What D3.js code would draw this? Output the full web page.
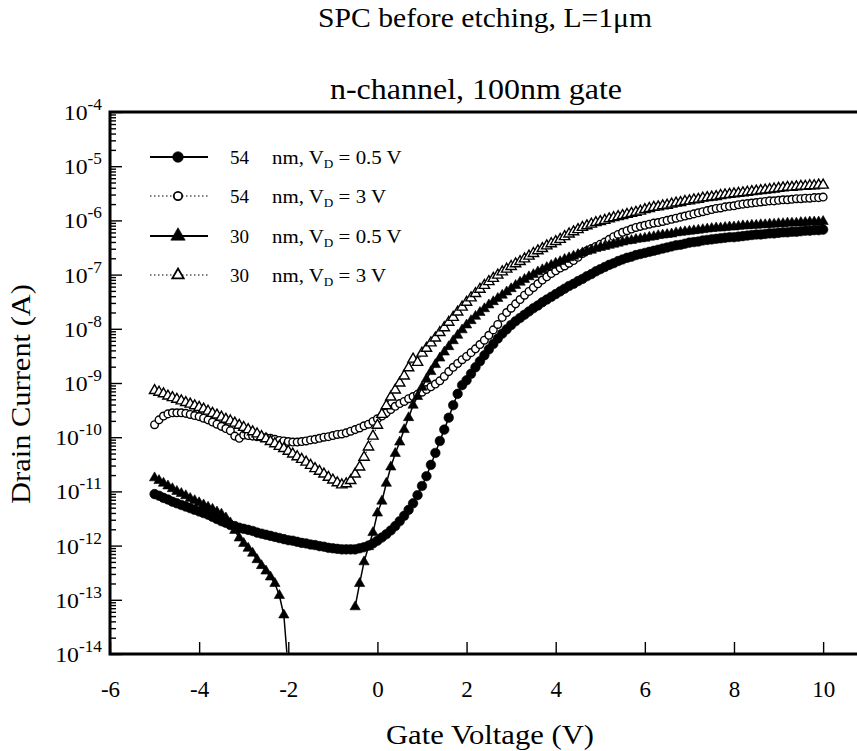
<!DOCTYPE html>
<html>
<head>
<meta charset="utf-8">
<script src="https://cdn.jsdelivr.net/npm/d3@7"></script>
<style>
  body { margin: 0; background: #fff; }
  svg { display: block; }
  text { white-space: pre; }
</style>
</head>
<body>
<script>
// gate voltage sweep (V)
const gateVoltage = [
  -5.0, -4.9, -4.8, -4.7, -4.6, -4.5, -4.4, -4.3, -4.2, -4.1,
  -4.0, -3.9, -3.8, -3.7, -3.6, -3.5, -3.4, -3.3, -3.2, -3.1,
  -3.0, -2.9, -2.8, -2.7, -2.6, -2.5, -2.4, -2.3, -2.2, -2.1,
  -2.0, -1.9, -1.8, -1.7, -1.6, -1.5, -1.4, -1.3, -1.2, -1.1,
  -1.0, -0.9, -0.8, -0.7, -0.6, -0.5, -0.4, -0.3, -0.2, -0.1,
  0.0, 0.1, 0.2, 0.3, 0.4, 0.5, 0.6, 0.7, 0.8, 0.9,
  1.0, 1.1, 1.2, 1.3, 1.4, 1.5, 1.6, 1.7, 1.8, 1.9,
  2.0, 2.1, 2.2, 2.3, 2.4, 2.5, 2.6, 2.7, 2.8, 2.9,
  3.0, 3.1, 3.2, 3.3, 3.4, 3.5, 3.6, 3.7, 3.8, 3.9,
  4.0, 4.1, 4.2, 4.3, 4.4, 4.5, 4.6, 4.7, 4.8, 4.9,
  5.0, 5.1, 5.2, 5.3, 5.4, 5.5, 5.6, 5.7, 5.8, 5.9,
  6.0, 6.1, 6.2, 6.3, 6.4, 6.5, 6.6, 6.7, 6.8, 6.9,
  7.0, 7.1, 7.2, 7.3, 7.4, 7.5, 7.6, 7.7, 7.8, 7.9,
  8.0, 8.1, 8.2, 8.3, 8.4, 8.5, 8.6, 8.7, 8.8, 8.9,
  9.0, 9.1, 9.2, 9.3, 9.4, 9.5, 9.6, 9.7, 9.8, 9.9,
  10.0
];

// log10 of drain current (A), one value per gate voltage; null = no reading (negative current)
const logId54nm05V = [
  -11.05, -11.08, -11.12, -11.15, -11.19, -11.22, -11.25, -11.28, -11.31, -11.34,
  -11.37, -11.40, -11.43, -11.47, -11.51, -11.55, -11.58, -11.62, -11.64, -11.67,
  -11.69, -11.71, -11.73, -11.76, -11.78, -11.80, -11.82, -11.84, -11.86, -11.88,
  -11.90, -11.91, -11.93, -11.95, -11.96, -11.98, -11.99, -12.01, -12.02, -12.04,
  -12.05, -12.06, -12.07, -12.07, -12.07, -12.07, -12.05, -12.03, -12.00, -11.96,
  -11.91, -11.85, -11.79, -11.72, -11.64, -11.55, -11.45, -11.34, -11.22, -11.07,
  -10.90, -10.72, -10.51, -10.29, -10.07, -9.86, -9.64, -9.41, -9.20, -9.04,
  -8.95, -8.83, -8.71, -8.60, -8.49, -8.38, -8.28, -8.18, -8.09, -8.01,
  -7.93, -7.86, -7.80, -7.74, -7.68, -7.62, -7.57, -7.51, -7.46, -7.41,
  -7.36, -7.31, -7.26, -7.21, -7.17, -7.12, -7.08, -7.03, -6.99, -6.94,
  -6.90, -6.86, -6.82, -6.79, -6.75, -6.72, -6.69, -6.67, -6.64, -6.62,
  -6.60, -6.58, -6.56, -6.54, -6.52, -6.50, -6.48, -6.46, -6.45, -6.43,
  -6.41, -6.40, -6.39, -6.37, -6.36, -6.35, -6.34, -6.33, -6.32, -6.31,
  -6.31, -6.30, -6.29, -6.28, -6.27, -6.26, -6.26, -6.25, -6.24, -6.24,
  -6.23, -6.22, -6.22, -6.21, -6.21, -6.20, -6.19, -6.19, -6.18, -6.18,
  -6.17
];

const logId54nm3V = [
  -9.77, -9.68, -9.61, -9.57, -9.55, -9.55, -9.55, -9.56, -9.58, -9.60,
  -9.62, -9.65, -9.68, -9.72, -9.76, -9.80, -9.84, -9.88, -9.98, -10.02,
  -9.96, -9.97, -9.98, -9.99, -10.00, -10.01, -10.02, -10.04, -10.06, -10.07,
  -10.08, -10.09, -10.09, -10.08, -10.07, -10.05, -10.04, -10.02, -10.00, -9.99,
  -9.97, -9.95, -9.94, -9.92, -9.89, -9.86, -9.83, -9.79, -9.76, -9.71,
  -9.66, -9.61, -9.55, -9.49, -9.43, -9.38, -9.34, -9.29, -9.25, -9.21,
  -9.17, -9.12, -9.07, -9.02, -8.96, -8.88, -8.79, -8.71, -8.64, -8.57,
  -8.51, -8.44, -8.37, -8.29, -8.21, -8.12, -8.02, -7.92, -7.79, -7.70,
  -7.62, -7.54, -7.46, -7.38, -7.31, -7.24, -7.17, -7.10, -7.04, -6.98,
  -6.93, -6.88, -6.84, -6.79, -6.74, -6.68, -6.61, -6.56, -6.52, -6.48,
  -6.44, -6.40, -6.35, -6.30, -6.26, -6.22, -6.19, -6.16, -6.13, -6.11,
  -6.09, -6.07, -6.05, -6.04, -6.02, -6.00, -5.98, -5.96, -5.94, -5.92,
  -5.90, -5.88, -5.86, -5.84, -5.82, -5.80, -5.78, -5.77, -5.75, -5.74,
  -5.73, -5.71, -5.70, -5.69, -5.68, -5.67, -5.66, -5.65, -5.64, -5.64,
  -5.63, -5.62, -5.62, -5.61, -5.60, -5.60, -5.59, -5.59, -5.58, -5.58,
  -5.57
];

const logId30nm05V = [
  -10.75, -10.80, -10.85, -10.90, -10.95, -11.00, -11.04, -11.08, -11.13, -11.17,
  -11.21, -11.25, -11.29, -11.33, -11.38, -11.42, -11.49, -11.58, -11.72, -11.86,
  -11.96, -12.05, -12.14, -12.26, -12.37, -12.47, -12.58, -12.70, -12.92, -13.28,
  -14.30, null, null, null, null, null, null, null, null, null,
  null, null, null, null, null, -13.13, -12.70, -12.30, -12.02, -11.76,
  -11.40, -11.18, -10.85, -10.55, -10.30, -10.09, -9.86, -9.64, -9.41, -9.25,
  -9.08, -8.93, -8.79, -8.66, -8.54, -8.43, -8.33, -8.22, -8.12, -8.02,
  -7.93, -7.85, -7.77, -7.70, -7.63, -7.56, -7.50, -7.44, -7.38, -7.32,
  -7.26, -7.20, -7.14, -7.09, -7.04, -7.00, -6.95, -6.91, -6.87, -6.83,
  -6.79, -6.76, -6.72, -6.69, -6.66, -6.63, -6.60, -6.57, -6.55, -6.52,
  -6.50, -6.48, -6.46, -6.44, -6.42, -6.40, -6.38, -6.37, -6.35, -6.34,
  -6.33, -6.31, -6.30, -6.28, -6.27, -6.26, -6.25, -6.23, -6.22, -6.21,
  -6.20, -6.19, -6.18, -6.17, -6.16, -6.15, -6.14, -6.14, -6.13, -6.12,
  -6.12, -6.11, -6.10, -6.10, -6.09, -6.09, -6.08, -6.08, -6.07, -6.07,
  -6.06, -6.06, -6.05, -6.05, -6.05, -6.04, -6.04, -6.03, -6.03, -6.03,
  -6.02
];

const logId30nm3V = [
  -9.14, -9.17, -9.20, -9.24, -9.27, -9.30, -9.33, -9.36, -9.39, -9.42,
  -9.45, -9.48, -9.52, -9.56, -9.59, -9.63, -9.67, -9.70, -9.74, -9.78,
  -9.82, -9.86, -9.90, -9.94, -9.99, -10.03, -10.08, -10.12, -10.17, -10.21,
  -10.26, -10.31, -10.36, -10.41, -10.46, -10.52, -10.58, -10.63, -10.68, -10.74,
  -10.79, -10.84, -10.88, -10.86, -10.80, -10.68, -10.55, -10.37, -10.18, -9.98,
  -9.78, -9.58, -9.42, -9.26, -9.13, -9.00, -8.87, -8.72, -8.56, -8.62,
  -8.45, -8.36, -8.26, -8.17, -8.07, -7.98, -7.88, -7.79, -7.69, -7.60,
  -7.51, -7.43, -7.35, -7.27, -7.20, -7.13, -7.07, -7.01, -6.95, -6.90,
  -6.85, -6.80, -6.76, -6.71, -6.66, -6.61, -6.56, -6.52, -6.47, -6.43,
  -6.39, -6.35, -6.30, -6.25, -6.21, -6.17, -6.13, -6.10, -6.07, -6.04,
  -6.02, -6.00, -5.97, -5.95, -5.93, -5.91, -5.89, -5.87, -5.85, -5.83,
  -5.80, -5.78, -5.76, -5.75, -5.73, -5.72, -5.70, -5.68, -5.67, -5.65,
  -5.64, -5.62, -5.61, -5.59, -5.58, -5.57, -5.56, -5.54, -5.53, -5.52,
  -5.51, -5.50, -5.49, -5.48, -5.47, -5.46, -5.45, -5.44, -5.43, -5.42,
  -5.41, -5.40, -5.39, -5.39, -5.38, -5.37, -5.37, -5.36, -5.36, -5.35,
  -5.35
];

const thicknessLabels = ["54", "54", "30", "30"];
const drainVoltageLabels = ["0.5", "3", "0.5", "3"];
const xTickValues = [-6, -4, -2, 0, 2, 4, 6, 8, 10];
const yTickExponents = [-4, -5, -6, -7, -8, -9, -10, -11, -12, -13, -14];

const series = [
  { values: logId54nm05V, symbol: d3.symbolCircle, size: 72, filled: true, dotted: false },
  { values: logId54nm3V, symbol: d3.symbolCircle, size: 46, filled: false, dotted: true },
  { values: logId30nm05V, symbol: d3.symbolTriangle, size: 46, filled: true, dotted: false },
  { values: logId30nm3V, symbol: d3.symbolTriangle, size: 46, filled: false, dotted: true }
];

const FONT = "'Liberation Serif', 'Times New Roman', serif";
const W = 857, H = 751;
const plotLeft = 110, plotRight = 857, plotTop = 112, plotBottom = 654;

const x = d3.scaleLinear().domain([-6, 10.76]).range([plotLeft, plotRight]);
const y = d3.scaleLog().domain([1e-14, 1e-4]).range([plotBottom, plotTop]);

const svg = d3.select("body").append("svg")
    .attr("width", W)
    .attr("height", H);

svg.append("rect").attr("width", W).attr("height", H).attr("fill", "#fff");

// titles
svg.append("text")
    .attr("x", 485).attr("y", 27)
    .attr("text-anchor", "middle")
    .attr("textLength", 334).attr("lengthAdjust", "spacingAndGlyphs")
    .style("font-family", FONT)
    .style("font-size", "27px")
    .text("SPC before etching, L=1\u03bcm");

svg.append("text")
    .attr("x", 476).attr("y", 99)
    .attr("text-anchor", "middle")
    .attr("textLength", 292).attr("lengthAdjust", "spacingAndGlyphs")
    .style("font-family", FONT)
    .style("font-size", "29px")
    .text("n-channel, 100nm gate");

// axis titles
svg.append("text")
    .attr("x", 490).attr("y", 744)
    .attr("text-anchor", "middle")
    .attr("textLength", 208).attr("lengthAdjust", "spacingAndGlyphs")
    .style("font-family", FONT)
    .style("font-size", "28px")
    .text("Gate Voltage (V)");

svg.append("text")
    .attr("transform", "translate(30,394) rotate(-90)")
    .attr("text-anchor", "middle")
    .attr("textLength", 220).attr("lengthAdjust", "spacingAndGlyphs")
    .style("font-family", FONT)
    .style("font-size", "28px")
    .text("Drain Current (A)");

/**
 * Y axis: decade ticks + minor ticks, pointing inside
 */
const majorTicks = yTickExponents.map(e => Math.pow(10, e));
const minorTicks = [];
for (let e = -14; e < -4; e++) {
    for (let k = 2; k <= 9; k++) minorTicks.push(k * Math.pow(10, e));
}

svg.append("g")
    .attr("class", "y minor")
    .attr("transform", "translate(" + plotLeft + ",0)")
    .call(d3.axisLeft(y).tickValues(minorTicks).tickSize(-6).tickFormat(""))
    .call(g => g.select(".domain").remove());

svg.append("g")
    .attr("class", "y major")
    .attr("transform", "translate(" + plotLeft + ",0)")
    .call(d3.axisLeft(y).tickValues(majorTicks).tickSize(-12).tickFormat(""))
    .call(g => g.select(".domain").remove());

svg.selectAll(".y .tick line").attr("stroke", "#000").attr("stroke-width", 1.4);

const yLabels = svg.append("g").selectAll("text")
    .data(yTickExponents)
    .enter().append("text")
    .attr("transform", d => "translate(102," + (y(Math.pow(10, d)) + 8) + ") scale(1.08,1)")
    .attr("text-anchor", "end")
    .style("font-family", FONT)
    .style("font-size", "22px");
yLabels.append("tspan").text("10");
yLabels.append("tspan").attr("dy", -10).style("font-size", "16px").text(d => String(d));

/**
 * X axis
 */
const xAxis = svg.append("g")
    .attr("transform", "translate(0," + plotBottom + ")")
    .call(d3.axisBottom(x).tickValues(xTickValues).tickSize(-12).tickFormat(d => String(d)));
xAxis.select(".domain").remove();
xAxis.selectAll(".tick line").attr("stroke", "#000").attr("stroke-width", 1.4);
xAxis.selectAll(".tick text")
    .attr("y", 43).attr("dy", null)
    .attr("fill", "#000")
    .style("font-size", "23px")
    .style("font-family", FONT);

// frame (no right border, it runs off the picture)
const [x0, x1] = x.range();
const [yb, yt] = y.range();
svg.append("path")
    .attr("d", "M" + x1 + "," + yt + "H" + x0 + "V" + yb + "H" + x1)
    .attr("fill", "none")
    .attr("stroke", "#000")
    .attr("stroke-width", 3);

/**
 * Curves
 */
svg.append("clipPath").attr("id", "plotClip")
    .append("rect")
    .attr("x", x0 + 1.5).attr("y", yt + 1.5)
    .attr("width", x1 - x0).attr("height", yb - yt - 3);

const plot = svg.append("g").attr("clip-path", "url(#plotClip)");

const line = d3.line()
    .defined(d => d.e !== null)
    .x(d => x(d.v))
    .y(d => y(Math.pow(10, d.e)));

series.forEach(s => {
    const pts = gateVoltage.map((v, i) => ({ v: v, e: s.values[i] }));
    const g = plot.append("g");
    g.append("path")
        .datum(pts)
        .attr("d", line)
        .attr("fill", "none")
        .attr("stroke", "#000")
        .attr("stroke-width", s.dotted ? 1 : 1.5)
        .attr("stroke-dasharray", s.dotted ? "1.5,2.5" : null);
    g.selectAll(".pt")
        .data(pts.filter(d => d.e !== null))
        .enter().append("path")
        .attr("class", "pt")
        .attr("transform", d => "translate(" + x(d.v) + "," + y(Math.pow(10, d.e)) + ")")
        .attr("d", d3.symbol(s.symbol, s.size))
        .attr("fill", s.filled ? "#000" : "#fff")
        .attr("stroke", "#000")
        .attr("stroke-width", s.filled ? 0.6 : 1.4);
});

/**
 * Legend
 */
const legendRows = [157, 196, 236, 275];
const legend = svg.selectAll(".legend")
    .data(series)
    .enter().append("g")
    .attr("class", "legend")
    .attr("transform", (d, i) => "translate(0," + legendRows[i] + ")");

legend.append("line")
    .attr("x1", 150).attr("x2", 208)
    .attr("stroke", "#000")
    .attr("stroke-width", d => d.dotted ? 1 : 2)
    .attr("stroke-dasharray", d => d.dotted ? "1.5,2.5" : null);

legend.append("path")
    .attr("transform", "translate(178,0)")
    .attr("d", d => d3.symbol(d.symbol, d.filled ? 90 : 56)())
    .attr("fill", d => d.filled ? "#000" : "#fff")
    .attr("stroke", "#000")
    .attr("stroke-width", d => d.filled ? 0.6 : 1.8);

legend.append("text")
    .attr("transform", "translate(230,7)")
    .style("font-family", FONT)
    .style("font-size", "19px")
    .text((d, i) => thicknessLabels[i]);

const legendText = legend.append("text")
    .attr("transform", "translate(272,7) scale(1.1,1)")
    .style("font-family", FONT)
    .style("font-size", "19px");
legendText.append("tspan").text("nm, V");
legendText.append("tspan").attr("dy", 4).style("font-size", "12px").text("D");
legendText.append("tspan").attr("dy", -4).text((d, i) => " = " + drainVoltageLabels[i] + " V");
</script>
</body>
</html>
